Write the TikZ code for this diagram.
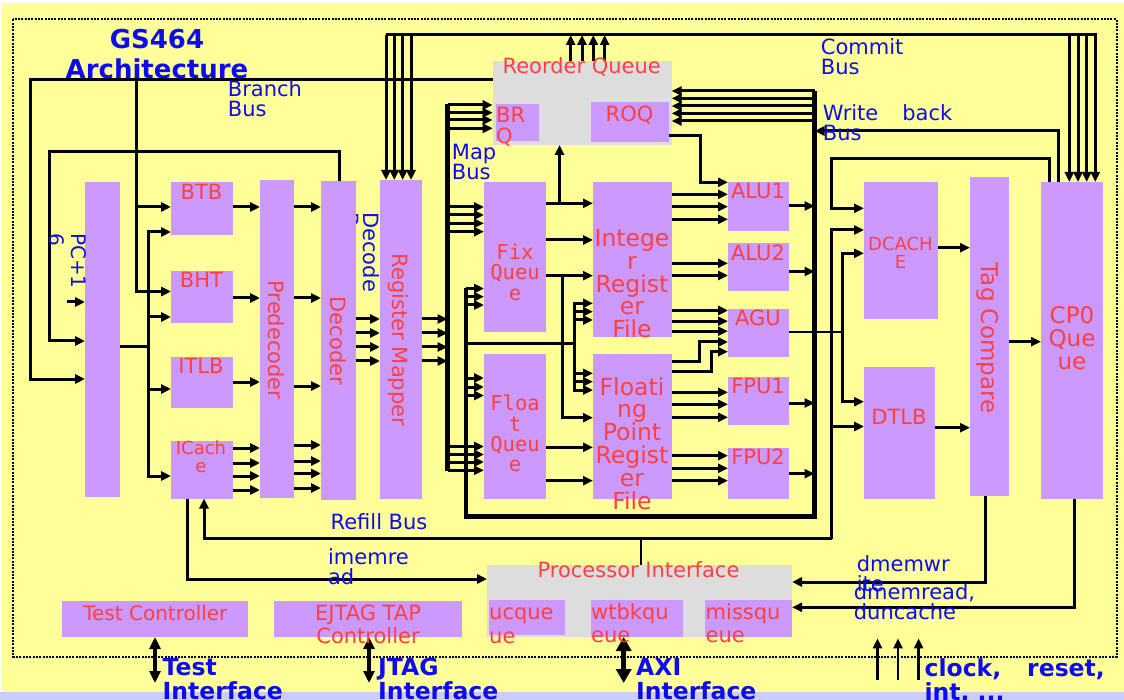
\documentclass[tikz,border=0pt]{standalone}
\usepackage{fontspec}
\setmainfont{DejaVu Sans}
\newfontfamily\monofont{DejaVu Sans Mono}
\usetikzlibrary{arrows.meta,fit}
\definecolor{yel}{RGB}{255,255,153}
\definecolor{lav}{RGB}{204,204,255}
\definecolor{purp}{RGB}{204,153,255}
\definecolor{greyq}{RGB}{221,221,221}
\definecolor{redt}{RGB}{255,64,64}
\definecolor{bluet}{RGB}{12,12,238}
\newcommand\fsz[2]{\fontsize{#1}{#2}\selectfont}
\tikzset{
  blk/.style  = {fill=purp, inner sep=0, outer sep=0},
  gry/.style  = {fill=greyq, inner sep=0, outer sep=0},
  unit/.style = {text=redt, inner sep=0, align=center, font=\fsz{21}{21}},
  note/.style = {text=bluet, inner sep=0, align=left, font=\fsz{21}{20}},
  ifc/.style  = {text=bluet, inner sep=0, align=left, font=\bfseries\fsz{23.5}{24}},
  wire/.style = {line width=3pt},
  arw/.style  = {wire, -{Triangle[length=10pt,width=9pt]}},
  bus/.style  = {line width=4.2pt},
  dbl/.style  = {line width=3.2pt, {Triangle[length=12pt,width=11pt]}-{Triangle[length=12pt,width=11pt]}}
}

\begin{document}
\begin{tikzpicture}[x=1pt, y=-1pt]
  \useasboundingbox (0,0) rectangle (1124,700);
  \fill[white] (0,0) rectangle (1124,700);
  \fill[yel] (2,3) rectangle (1124,692);
  \fill[lav] (0,692) rectangle (1124,700);
  \draw[line width=2pt, dash pattern=on 2pt off 1.3pt] (13,19.5) rectangle (1117,656.5);
  % label partly hidden under the decoder
  \node[note, rotate=-90, anchor=north west] (tDB) at (380,212) {Decode\\Bus};

  % blocks
  \node[blk, fit={(85,182) (120,497)}] (PC) {};
  \node[blk, fit={(171,182) (232.5,235)}] (BTB) {};
  \node[blk, fit={(171,271) (232.5,323.5)}] (BHT) {};
  \node[blk, fit={(171,357) (232.5,408)}] (ITLB) {};
  \node[blk, fit={(171,441) (232.5,498.5)}] (ICA) {};
  \node[blk, fit={(260,180) (294,498)}] (PRE) {};
  \node[blk, fit={(321,181) (356,500)}] (DEC) {};
  \node[blk, fit={(380,180) (422,498.5)}] (RMAP) {};
  \node[gry, fit={(492.7,60.7) (671.7,145)}] (ROB) {};
  \node[blk, fit={(496,104) (539,140.7)}] (BRQ) {};
  \node[blk, fit={(590.7,101.7) (669,141.7)}] (ROQ) {};
  \node[blk, fit={(484,181.7) (546,331.7)}] (FIXQ) {};
  \node[blk, fit={(484,354) (546,498.7)}] (FLTQ) {};
  \node[blk, fit={(593,182) (671.7,336.7)}] (IRF) {};
  \node[blk, fit={(593,354.3) (671.7,498.7)}] (FRF) {};
  \node[blk, fit={(728,182) (789,230.7)}] (ALU1) {};
  \node[blk, fit={(728,243) (789,291)}] (ALU2) {};
  \node[blk, fit={(728,308.7) (789,357)}] (AGU) {};
  \node[blk, fit={(728,377) (789,425)}] (FPU1) {};
  \node[blk, fit={(728,448) (789,498.7)}] (FPU2) {};
  \node[blk, fit={(864,182) (937.7,319)}] (DCA) {};
  \node[blk, fit={(864,367) (934.7,499)}] (DTLB) {};
  \node[blk, fit={(970,177.3) (1009,496)}] (TAG) {};
  \node[blk, fit={(1041,182) (1103,498.7)}] (CP0) {};
  \node[gry, fit={(487,565) (792,637)}] (PIF) {};
  \node[blk, fit={(489,600) (565,634.7)}] (UCQ) {};
  \node[blk, fit={(591,600) (682.5,637)}] (WBQ) {};
  \node[blk, fit={(705,600) (792,637)}] (MSQ) {};
  \node[blk, fit={(62,601) (248,637)}] (TST) {};
  \node[blk, fit={(274,601) (462,637)}] (EJT) {};

  % commit bus
  \coordinate (cmL) at (386,35); \coordinate (cmR) at (1097,35);
  \draw[wire] (cmL) -- (cmR);
  \foreach \x in {386,394.3,402.7,411} \draw[arw] (cmL -| \x,0) -- (RMAP.north -| \x,0);
  \foreach \x in {570.7,582,593.3,604.7} \draw[arw] (ROB.north -| \x,0) -- (cmL -| \x,0);
  \foreach \x in {1069.3,1078,1086.7,1095.3} \draw[arw] (cmL -| \x,0) -- (CP0.north -| \x,0);

  % branch bus and pc loops
  \coordinate (brA) at (30,80); \coordinate (brB) at (136,80);
  \draw[arw] (ROB.west |- brA) -- (brA) |- (PC.west |- 0,379);
  \draw[arw] (brB) |- (BHT.west |- 0,291.5);
  \draw[arw] (brB |- 0,207) -- (BTB.west |- 0,207);
  \draw[arw] (DEC.north -| 339,0) |- (49,152) |- (PC.west |- 0,341);
  \coordinate (p16) at (67,302); \draw[arw] (p16) -- (PC.west |- p16);

  % fetch
  \coordinate (fb) at (148,347);
  \draw[wire] (PC.east |- fb) -- (fb);
  \foreach \y/\n in {232/BTB,317/BHT,389/ITLB,476/ICA} \draw[arw] (fb) |- (\n.west |- 0,\y);
  \draw[arw] (BTB.east |- 0,207) -- (PRE.west |- 0,207);
  \draw[arw] (PRE.east |- 0,207) -- (DEC.west |- 0,207);
  \draw[arw] (BHT.east |- 0,298) -- (PRE.west |- 0,298);
  \draw[arw] (PRE.east |- 0,298) -- (DEC.west |- 0,298);
  \draw[arw] (ITLB.east |- 0,382) -- (PRE.west |- 0,382);
  \draw[arw] (PRE.east |- 0,386) -- (DEC.west |- 0,386);
  \foreach \y in {448,463,476,490} \draw[arw] (ICA.east |- 0,\y) -- (PRE.west |- 0,\y);
  \foreach \y in {445,461,473.5,488} \draw[arw] (PRE.east |- 0,\y) -- (DEC.west |- 0,\y);

  % map bus
  \coordinate (mbT) at (447.5,104); \coordinate (mbB) at (447.5,471);
  \draw[bus] (mbT) -- (mbB);
  \foreach \y in {319,333,347,361} {
    \draw[arw] (DEC.east |- 0,\y) -- (RMAP.west |- 0,\y);
    \draw[arw] (RMAP.east |- 0,\y) -- (mbT |- 0,\y);
  }
  \foreach \y in {105,112.7,120,128.3} \draw[arw] (mbT |- 0,\y) -- (ROB.west |- 0,\y);
  \foreach \y in {207,215,223.3,231.7} \draw[arw] (mbT |- 0,\y) -- (FIXQ.west |- 0,\y);
  \foreach \y in {446.5,454.5,462,470.3} \draw[arw] (mbT |- 0,\y) -- (FLTQ.west |- 0,\y);

  % write back bus and forwarding
  \coordinate (wbT) at (814.5,91); \coordinate (wbB) at (814.5,516.5); \coordinate (fwT) at (466,288.5);
  \draw[bus] (wbT) -- (wbB) -| (fwT);
  \foreach \y in {288.5,296.7,305} \draw[arw] (fwT |- 0,\y) -- (FIXQ.west |- 0,\y);
  \foreach \y in {378,387,395.5} \draw[arw] (fwT |- 0,\y) -- (FLTQ.west |- 0,\y);
  \coordinate (fwR) at (574,344);
  \draw[wire] (fwT |- fwR) -- (fwR);
  \foreach \y in {303.3,311.7,320} \draw[arw] (fwR) |- (IRF.west |- 0,\y);
  \foreach \y in {373.3,381.7,390} \draw[arw] (fwR) |- (FRF.west |- 0,\y);

  % queues to register files
  \draw[arw] (FIXQ.east |- 0,203.3) -- (IRF.west |- 0,203.3);
  \draw[arw] (559.5,203.3) -- (ROB.south -| 559.5,0);
  \draw[arw] (FIXQ.east |- 0,240) -- (IRF.west |- 0,240);
  \draw[arw] (FIXQ.east |- 0,275.7) -- (IRF.west |- 0,275.7);
  \draw[arw] (562.3,275.7) |- (FRF.west |- 0,417.7);
  \draw[arw] (FLTQ.east |- 0,447.3) -- (FRF.west |- 0,447.3);
  \draw[arw] (FLTQ.east |- 0,480.7) -- (FRF.west |- 0,480.7);

  % register files to units
  \draw[arw] (ROQ.east |- 0,136) -| (700,182.3) -- (ALU1.west |- 0,182.3);
  \foreach \y in {194.3,206.7,219.3} \draw[arw] (IRF.east |- 0,\y) -- (ALU1.west |- 0,\y);
  \foreach \y in {263.3,275.5} \draw[arw] (IRF.east |- 0,\y) -- (ALU2.west |- 0,\y);
  \foreach \y in {310.5,321.2,331.2} \draw[arw] (IRF.east |- 0,\y) -- (AGU.west |- 0,\y);
  \draw[arw] (FRF.east |- 0,362) -| (699.3,342) -- (AGU.west |- 0,342);
  \draw[arw] (FRF.east |- 0,371.7) -| (711,351.7) -- (AGU.west |- 0,351.7);
  \foreach \y in {392.3,404.3,417.3} \draw[arw] (FRF.east |- 0,\y) -- (FPU1.west |- 0,\y);
  \foreach \y in {455.7,468.3,480.7} \draw[arw] (FRF.east |- 0,\y) -- (FPU2.west |- 0,\y);

  % results
  \foreach \y in {91,98.3,106,113.3,121} \draw[arw] (wbT |- 0,\y) -- (ROB.east |- 0,\y);
  \foreach \y/\n in {206/ALU1,271.5/ALU2,403/FPU1,473.7/FPU2} \draw[arw] (\n.east |- 0,\y) -- (wbT |- 0,\y);
  \draw[arw] (CP0.north -| 1058,0) |- (wbT |- 0,131);

  % memory side
  \coordinate (ag) at (842.5,331.7);
  \draw[line width=2.2pt] (AGU.east |- ag) -- (ag);
  \draw[arw] (ag) |- (DCA.west |- 0,253.3);
  \draw[arw] (ag) |- (DTLB.west |- 0,401.7);
  \draw[arw] (CP0.north -| 1049.3,0) |- (831.5,158.3) |- (DCA.west |- 0,208.3);
  \coordinate (rfT) at (831.5,230); \coordinate (rfB) at (831.5,538.5);
  \draw[arw] (rfB) -- (rfT) -- (DCA.west |- rfT);
  \draw[arw] (rfB |- 0,426.5) -- (DTLB.west |- 0,426.5);
  \draw[arw] (rfB) -| (ICA.south -| 204,0);
  \draw[line width=2.2pt] (PIF.north -| 641,0) -- (rfB -| 641,0);
  \draw[arw] (DCA.east |- 0,247.7) -- (TAG.west |- 0,247.7);
  \draw[arw] (DTLB.east |- 0,427.7) -- (TAG.west |- 0,427.7);
  \draw[arw] (TAG.east |- 0,341.7) -- (CP0.west |- 0,341.7);
  \draw[arw] (TAG.south -| 985,0) |- (PIF.east |- 0,582);
  \draw[arw] (CP0.south -| 1074.5,0) |- (PIF.east |- 0,607.3);
  \draw[arw] (ICA.south -| 187,0) |- (PIF.west |- 0,579);

  % outside interfaces
  \coordinate (ifB) at (0,683);
  \draw[dbl] (TST.south) -- (TST.south |- ifB);
  \draw[dbl] (EJT.south -| 369,0) -- (369,683);
  \draw[line width=5.5pt, {Triangle[length=14pt,width=15pt]}-{Triangle[length=14pt,width=15pt]}] (WBQ.south -| 623.7,0) -- (623.7,683);
  \foreach \x in {877.5,898,918.6} \draw[line width=2.4pt, -{Triangle[length=10pt,width=9pt]}] (\x,680) -- (\x,638.3);

  % block texts
  \node[unit, anchor=north] (tBTB) at (201.5,184) {BTB};
  \node[unit, anchor=north] (tBHT) at (201.5,272) {BHT};
  \node[unit, anchor=north] (tITLB) at (201,358) {ITLB};
  \node[unit, anchor=north, font=\fsz{18}{18}] (tICA) at (201,440.6) {ICach\\e};
  \node[unit, rotate=-90] (tPRE) at (276,340) {Predecoder};
  \node[unit, rotate=-90] (tDEC) at (338,341) {Decoder};
  \node[unit, rotate=-90] (tRMAP) at (398,340) {Register Mapper};
  \node[unit, rotate=-90, font=\fsz{23}{23}] (tTAG) at (988,338) {Tag Compare};
  \node[unit, anchor=north] (tROB) at (581.7,57) {Reorder Queue};
  \node[unit, anchor=north west, align=left] (tBRQ) at (496,106.5) {BR\\Q};
  \node[unit, anchor=north] (tROQ) at (629.5,106) {ROQ};
  \node[unit, anchor=north, font=\monofont\fsz{20.5}{20.5}] (tFIX) at (515,243.7) {Fix\\Queu\\e};
  \node[unit, anchor=north, font=\monofont\fsz{20.5}{20.3}] (tFLT) at (515,395) {Floa\\t\\Queu\\e};
  \node[unit, anchor=north, font=\fsz{23.5}{22.6}] (tIRF) at (632,229.5) {Intege\\r\\Regist\\er\\File};
  \node[unit, anchor=north, font=\fsz{23.5}{22.8}] (tFRF) at (632,377) {Floati\\ng\\Point\\Regist\\er\\File};
  \node[unit, anchor=north] (tALU1) at (758,183) {ALU1};
  \node[unit, anchor=north] (tALU2) at (758,245) {ALU2};
  \node[unit, anchor=north] (tAGU) at (758,310) {AGU};
  \node[unit, anchor=north] (tFPU1) at (758,378) {FPU1};
  \node[unit, anchor=north] (tFPU2) at (758,449) {FPU2};
  \node[unit, anchor=north, font=\fsz{18}{18}] (tDCA) at (900.5,236.5) {DCACH\\E};
  \node[unit, anchor=north] (tDTLB) at (899,409) {DTLB};
  \node[unit, anchor=north, font=\fsz{23}{23}] (tCP0) at (1072,306.5) {CP0\\Que\\ue};
  \node[unit, anchor=north] (tPIF) at (638.5,561) {Processor Interface};
  \node[unit, anchor=north west, align=left, font=\fsz{21}{23.5}] (tUCQ) at (489,607.8) {ucque\\ue};
  \node[unit, anchor=north west, align=left, font=\fsz{21}{23.5}] (tWBQ) at (591,603.3) {wtbkqu\\eue};
  \node[unit, anchor=north west, align=left, font=\fsz{21}{23.5}] (tMSQ) at (705.5,603.3) {missqu\\eue};
  \node[unit, anchor=north, font=\fsz{20}{20}] (tTST) at (155.4,604.8) {Test Controller};
  \node[unit, anchor=north, font=\fsz{21}{23.3}] (tEJT) at (368,604.7) {EJTAG TAP\\Controller};

  % bus names
  \node[note, anchor=north, align=center, font=\bfseries\fsz{26}{30}] (ttl) at (157,29.3) {GS464\\Architecture};
  \node[note, anchor=north west] (tBr) at (227.7,80.7) {Branch\\Bus};
  \node[note, anchor=north west] (tMap) at (451.7,144) {Map\\Bus};
  \node[note, anchor=north west] (tCm) at (820.7,38) {Commit\\Bus};
  \node[note, anchor=north west] (tWb) at (822.7,104) {Write\hspace{24pt}back\\Bus};
  \node[note, anchor=north west] (tRf) at (330.4,513.5) {Refill Bus};
  \node[note, anchor=north west] (tIm) at (327.9,548.3) {imemre\\ad};
  \node[note, anchor=north west] (tDw) at (856.6,555) {dmemwr\\ite};
  \node[note, anchor=north west] (tDr) at (853.7,583) {dmemread,\\duncache};
  \node[note, rotate=-90, anchor=north west, font=\fsz{20}{22}] (tPC) at (87,233) {PC+1\\6};
  \node[ifc, anchor=north west] (iTst) at (162.5,658) {Test\\Interface};
  \node[ifc, anchor=north west] (iJtg) at (377.9,658) {JTAG\\Interface};
  \node[ifc, anchor=north west] (iAxi) at (636,658) {AXI\\Interface};
  \node[ifc, anchor=north west] (iClk) at (924.4,658) {clock,\hspace{26pt}reset,\\int, ...};
\end{tikzpicture}
\end{document}
